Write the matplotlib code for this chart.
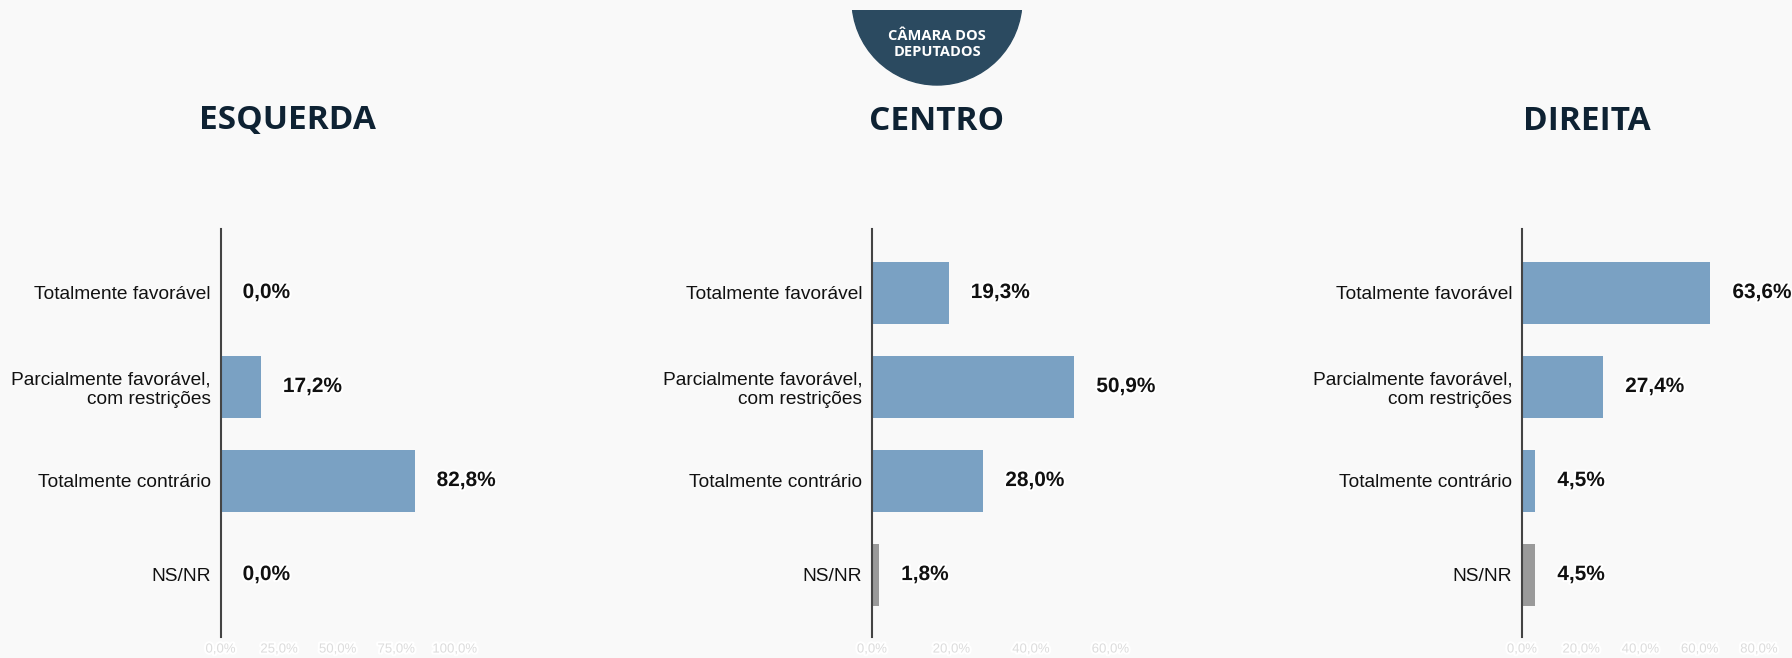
import matplotlib.pyplot as plt
import matplotlib.patheffects as pe
from matplotlib.patches import Circle, Rectangle

# Dados
categorias = ['Totalmente favorável', 'Parcialmente favorável,\ncom restrições',
              'Totalmente contrário', 'NS/NR']
grupos = ['ESQUERDA', 'CENTRO', 'DIREITA']
valores = {
    'ESQUERDA': [0.0, 17.2, 82.8, 0.0],
    'CENTRO': [19.3, 50.9, 28.0, 1.8],
    'DIREITA': [63.6, 27.4, 4.5, 4.5],
}
xmax = {'ESQUERDA': 100, 'CENTRO': 60, 'DIREITA': 80}
xticks = {'ESQUERDA': [0, 25, 50, 75, 100],
          'CENTRO': [0, 20, 40, 60],
          'DIREITA': [0, 20, 40, 60, 80]}

W, H = 1792, 658
bg = '#f9f9f9'
azul = '#7aa1c3'
cinza = '#9a9a9a'
titulo_cor = '#0e2233'

fig = plt.figure(figsize=(W / 100, H / 100), dpi=100)
fig.patch.set_facecolor(bg)

# posicoes em pixels (esquerda do eixo, largura)
pos = {'ESQUERDA': (220.6, 234.3), 'CENTRO': (872, 238.5), 'DIREITA': (1522, 237)}
centros_titulo = {'ESQUERDA': 287, 'CENTRO': 937, 'DIREITA': 1587}

halo = [pe.withStroke(linewidth=3, foreground='white')]

for g in grupos:
    x0, w = pos[g]
    ax = fig.add_axes([x0 / W, 1 - 636.6 / H, w / W, (636.6 - 228.6) / H])
    ax.set_facecolor(bg)
    vals = valores[g]
    cores = [azul, azul, azul, cinza]
    ax.barh(range(len(vals)), vals, height=0.66, color=cores)
    ax.set_ylim(3.66, -0.68)
    ax.set_xlim(0, xmax[g])
    ax.set_yticks(range(len(categorias)))
    ax.set_yticklabels(categorias, fontsize=13.8, family='Liberation Sans', color='#111111')
    ax.set_xticks(xticks[g])
    ax.set_xticklabels([f'{t:.1f}%'.replace('.', ',') for t in xticks[g]],
                       fontsize=9.5, color='#dcdcdc', family='Liberation Sans')
    for lbl in ax.get_xticklabels():
        lbl.set_path_effects(halo)
    ax.tick_params(axis='both', length=0)
    ax.tick_params(axis='y', pad=7)
    ax.tick_params(axis='x', pad=5)
    for s in ['top', 'right', 'bottom']:
        ax.spines[s].set_visible(False)
    ax.spines['left'].set_color('#444444')
    ax.spines['left'].set_linewidth(1.5)
    # rotulos de valor
    dx = xmax[g] * 22 / w
    for i, v in enumerate(vals):
        ax.text(v + dx, i, f'{v:.1f}%'.replace('.', ','), va='center', ha='left',
                fontsize=15, fontweight='bold', family='Liberation Sans',
                color='#111111', path_effects=halo)
    fig.text(centros_titulo[g] / W, 1 - 121 / H, g, ha='center', va='center',
             fontsize=24, fontweight='bold', family='Open Sans', color=titulo_cor)

# cabecalho semicircular
ov = fig.add_axes([0, 0, 1, 1])
ov.set_xlim(0, W)
ov.set_ylim(H, 0)
ov.axis('off')
ov.patch.set_alpha(0)
clip = Rectangle((0, 10), W, H, transform=ov.transData)
circ = Circle((937, 0), 85, color='#2b4a60', transform=ov.transData)
ov.add_patch(circ)
circ.set_clip_path(clip)
ov.text(937, 44, 'CÂMARA DOS\nDEPUTADOS', ha='center', va='center', color='white',
        fontsize=10.5, fontweight='bold', family='Open Sans', linespacing=1.1)

fig.savefig('out.png', dpi=100, facecolor=bg)
